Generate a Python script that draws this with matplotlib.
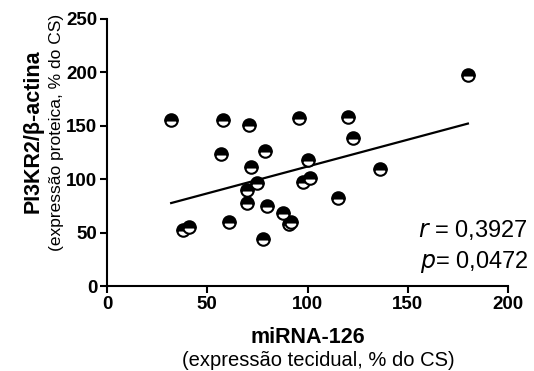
import numpy as np
import matplotlib
matplotlib.use('Agg')
import matplotlib.pyplot as plt

plt.rcParams['font.family'] = ['Liberation Sans', 'DejaVu Sans']

# tissue miRNA-126 (% of CS) vs PI3KR2/beta-actin protein (% of CS)
mirna = [32, 58, 71, 96, 120, 122.5, 180, 57, 79, 72, 100, 136, 75,
         70, 98, 101, 70, 80, 88, 91, 92, 115, 61, 38, 41, 78]
pi3kr2 = [155, 155, 151, 157, 158, 139, 198, 124, 126, 111, 118, 110, 96,
          90, 97, 101, 78, 75, 68, 58, 60, 82, 60, 52, 55, 44]

r_value = '0,3927'
p_value = '0,0472'

fig = plt.figure(figsize=(5.34, 3.71), dpi=100)
ax = fig.add_axes([0.2004, 0.2291, 0.7509, 0.7197])

# linear fit over the range of the data
slope, intercept = np.polyfit(mirna, pi3kr2, 1)
fx = np.array([min(mirna), max(mirna)])
ax.plot(fx, slope * fx + intercept, color='black', lw=1.6, zorder=2)

ax.plot(mirna, pi3kr2, 'o', ms=9, mew=1.5, mec='black', mfc='black',
        fillstyle='top', markerfacecoloralt='white', zorder=3)

ax.set_xlim(0, 200)
ax.set_ylim(0, 250)
ax.set_xticks([0, 50, 100, 150, 200])
ax.set_yticks([0, 50, 100, 150, 200, 250])
for s in ['top', 'right']:
    ax.spines[s].set_visible(False)
for s in ['left', 'bottom']:
    ax.spines[s].set_linewidth(1.5)
ax.tick_params(direction='out', length=5, width=1.5, labelsize=13.5, pad=2)
for lab in ax.get_xticklabels() + ax.get_yticklabels():
    lab.set_fontweight('bold')

fig.text(0.577, 0.0916, 'miRNA-126', ha='center', va='center',
         fontsize=15.5, fontweight='bold')
fig.text(0.597, 0.0296, '(expressão tecidual, % do CS)', ha='center',
         va='center', fontsize=14.5)
fig.text(0.062, 0.647, 'PI3KR2/β-actina', ha='center', va='center',
         rotation=90, fontsize=15.5, fontweight='bold')
fig.text(0.106, 0.644, '(expressão proteica, % do CS)', ha='center',
         va='center', rotation=90, fontsize=12.5)

fig.text(0.989, 0.380, '$\\it{r}$ = ' + r_value, ha='right', va='center',
         fontsize=17)
fig.text(0.989, 0.294, '$\\it{p}$= ' + p_value, ha='right', va='center',
         fontsize=17)

fig.savefig('out.png', dpi=100)
